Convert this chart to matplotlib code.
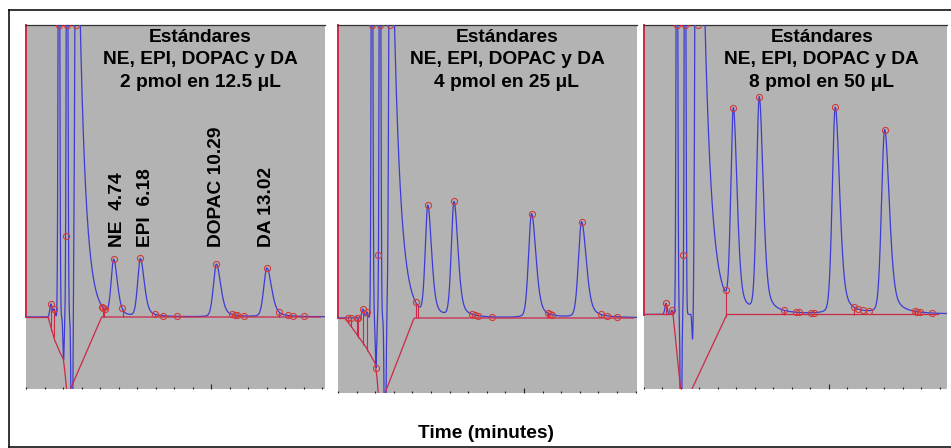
import numpy as np
import matplotlib
matplotlib.use("Agg")
import matplotlib.pyplot as plt
from matplotlib.lines import Line2D
from matplotlib.ticker import FixedLocator, MultipleLocator

plt.rcParams['font.family'] = ['Liberation Sans', 'DejaVu Sans']
plt.rcParams['font.weight'] = 'bold'

# ---------------- data --------------------------------------------------
titles = ["2 pmol en 12.5 \u03bcL", "4 pmol en 25 \u03bcL", "8 pmol en 50 \u03bcL"]
compounds = ["NE  4.74", "EPI  6.18", "DOPAC 10.29", "DA 13.02"]

# analyte peaks (retention time in min, height in signal units)
peak_rt = [[4.74, 6.18, 10.29, 13.02],
           [4.83, 6.24, 10.41, 13.10],
           [4.83, 6.23, 10.34, 13.01]]
peak_h = [[5.6, 5.78, 5.27, 4.87],
          [11.0, 11.5, 10.40, 9.57],
          [20.0, 21.5, 20.67, 18.37]]
# half widths at half max, front / back of the peak (min)
hw_front = [0.16, 0.17, 0.19, 0.20]
hw_back = [0.24, 0.25, 0.28, 0.30]

# solvent front: narrow spikes and dips (time, height, width)
solv_t = [[1.35, 1.52, 1.78, 2.03, 2.22, 2.48],
          [1.34, 1.56, 1.83, 2.04, 2.26, 2.53],
          [1.19, 1.51, 1.78, 2.00, 2.22, 2.63]]
solv_h = [[1.3, 0.8, 60, -4.3, 60, -20],
          [0.9, 0.6, 60, -5.0, 60, -20],
          [1.1, 0.4, 60, -20, 60, -3.0]]
solv_w = [[0.06, 0.05, 0.04, 0.035, 0.04, 0.04],
          [0.06, 0.05, 0.04, 0.035, 0.04, 0.04],
          [0.06, 0.05, 0.04, 0.035, 0.04, 0.035]]
# big unretained peak with its tail: start, height, rise width, decay constant
tail_t0 = [2.72, 2.80, 2.85]
tail_h = [54, 55, 89]
tail_rise = [0.07, 0.06, 0.07]
tail_tau = [0.35, 0.38, 0.40]

# integration marks (circles) put by the software
mark_t = [[1.35, 1.51, 1.78, 2.14, 2.22, 2.72, 4.12, 4.18, 4.25, 5.19, 6.97, 7.41, 8.16,
           11.14, 11.30, 11.40, 11.78, 13.68, 14.16, 14.43, 15.03],
          [0.54, 0.70, 1.02, 1.08, 1.34, 1.56, 1.83, 2.04, 2.175, 2.26, 2.80, 4.18, 7.20,
           7.37, 7.53, 8.28, 11.29, 11.40, 11.50, 14.14, 14.46, 15.00],
          [1.19, 1.51, 1.78, 2.134, 2.22, 2.92, 4.45, 7.57, 8.22, 8.38, 9.03, 9.19, 11.35,
           11.57, 11.84, 12.16, 14.65, 14.76, 14.92, 15.57]]
# drop lines from the trace down to the integration baseline
drop_t = [[1.35, 1.51, 4.15, 4.20, 5.22, 6.97, 7.41, 11.14, 11.30, 13.68, 14.16],
          [0.54, 0.70, 1.02, 1.08, 1.34, 1.56, 4.19, 4.31, 7.20, 11.29, 14.14],
          [1.19, 1.51, 4.43, 7.57, 11.35, 14.65]]
drop_end = [[-1.4, -2.0, 0, 0, 0, 0, 0, 0, 0, 0, 0],
            [-0.45, -0.9, -1.8, -1.95, -2.7, -3.3, 0, 0, 0, 0, 0],
            [0, 0, -0.2, 0, 0, 0]]
# integration baselines (polylines of time, signal)
base_lines = [
    [[(0, 0), (1.19, 0)],
     [(1.19, 0), (1.55, -2.3), (1.85, -3.6), (2.02, -4.2), (2.10, -5.5), (2.20, -7.3)],
     [(2.38, -7.3), (4.09, 0), (15.9, 0)]],
    [[(0, 0), (0.38, 0)],
     [(0.38, 0), (1.0, -1.6), (1.5, -2.9), (1.99, -4.5), (2.10, -6.0), (2.16, -7.5)],
     [(2.53, -7.5), (4.05, -0.2), (4.12, 0), (15.9, 0)]],
    [[(0, 0), (1.57, 0), (1.98, -7.5)],
     [(2.58, -7.5), (4.43, -0.2)],
     [(4.43, 0.05), (15.9, 0.05)]],
]

ETA_F = 0.15
ETA_B = 0.45


def signal(t, i):
    t = np.asarray(t, dtype=float)
    y = np.zeros_like(t)
    for tc, h, w in zip(solv_t[i], solv_h[i], solv_w[i]):
        y += h * np.exp(-0.5 * ((t - tc) / w) ** 2)
    d = t - tail_t0[i]
    y += np.where(d < 0, tail_h[i] * np.exp(-0.5 * (d / tail_rise[i]) ** 2),
                  tail_h[i] * np.exp(-np.clip(d, 0, None) / tail_tau[i]))
    for tr, h, wf, wb in zip(peak_rt[i], peak_h[i], hw_front, hw_back):
        d = t - tr
        x = (d / np.where(d < 0, wf, wb)) ** 2
        eta = np.where(d < 0, ETA_F, ETA_B)
        y += h * ((1 - eta) * np.exp(-np.log(2) * x) + eta / (1 + x))
    return y


# ---------------- figure -----------------
W, H = 951, 448
fig = plt.figure(figsize=(W / 100, H / 100), dpi=100)
boxes = [(26, 25, 325, 389), (338, 25, 637, 393), (644, 25, 947, 389)]
xmax = [16.16, 16.08, 16.38]
ylims = [(-7.2, 29.2), (-7.5, 29.3), (-7.45, 28.95)]
title_x = [0.582, 0.565, 0.587]

gray = '#b3b3b3'
blue = '#3c3cd4'
red = '#cc2848'
mred = '#d23a3a'

for i, (x0, y0, x1, y1) in enumerate(boxes):
    ax = fig.add_axes([x0 / W, 1 - y1 / H, (x1 - x0) / W, (y1 - y0) / H])
    ax.set_facecolor(gray)
    ax.set_xlim(0, xmax[i])
    ax.set_ylim(*ylims[i])
    for s in ['left', 'right', 'bottom']:
        ax.spines[s].set_visible(False)
    ax.spines['top'].set_color('#333333')
    ax.spines['top'].set_linewidth(0.9)

    ax.xaxis.set_major_locator(FixedLocator([10]))
    ax.xaxis.set_minor_locator(MultipleLocator(1))
    ax.tick_params(axis='x', which='major', direction='in', length=3.5, width=0.8,
                   color='#222222', labelbottom=False)
    ax.tick_params(axis='x', which='minor', direction='in', length=1.6, width=0.8,
                   color='#222222')
    ax.set_yticks([])

    lo, hi = ylims[i]
    ax.axvline(0, ymin=(0 - lo) / (hi - lo), ymax=1, color=red, lw=1.4, clip_on=False)

    t = np.arange(0, xmax[i], 0.002)
    ax.plot(t, signal(t, i), color=blue, lw=0.9, zorder=3)

    for seg in base_lines[i]:
        xs, ys = zip(*seg)
        ax.plot(xs, ys, color=red, lw=0.9, zorder=4)
    ytr = signal(drop_t[i], i)
    ax.vlines(drop_t[i], drop_end[i], ytr, color=red, lw=0.8, zorder=4)

    mt = list(mark_t[i]) + list(peak_rt[i])
    my = np.minimum(signal(mt, i), hi)
    ax.plot(mt, my, 'o', ms=4.4, mfc='none', mec=mred, mew=0.8, zorder=5)

    ax.annotate("Est\u00e1ndares", xy=(title_x[i], 1), xycoords='axes fraction',
                xytext=(0, -12.0), textcoords='offset points', ha='center',
                va='baseline', fontsize=13.8, fontweight='bold')
    ax.annotate("NE, EPI, DOPAC y DA", xy=(title_x[i], 1), xycoords='axes fraction',
                xytext=(0, -28.1), textcoords='offset points', ha='center',
                va='baseline', fontsize=13.8, fontweight='bold')
    ax.annotate(titles[i], xy=(title_x[i], 1), xycoords='axes fraction',
                xytext=(0, -44.4), textcoords='offset points', ha='center',
                va='baseline', fontsize=13.8, fontweight='bold')

    if i == 0:
        label_dx = [0.23, 0.30, 0.0, 0.0]
        for name, rt, dx in zip(compounds, peak_rt[0], label_dx):
            ax.text(rt + dx, 7.0, name, rotation=90, ha='center', va='bottom',
                    fontsize=13.8, fontweight='bold')

fig.text(486 / W, 1 - 438.3 / H, "Time (minutes)", ha='center', va='baseline',
         fontsize=13.8, fontweight='bold')

# outer frame of the figure
for xs, ys in [((9, 951), (10, 10)), ((9, 9), (10, 447)), ((9, 951), (447, 447))]:
    fig.add_artist(Line2D([x / W for x in xs], [1 - y / H for y in ys],
                          color='black', lw=1.1))

fig.savefig('out.png', dpi=100)
